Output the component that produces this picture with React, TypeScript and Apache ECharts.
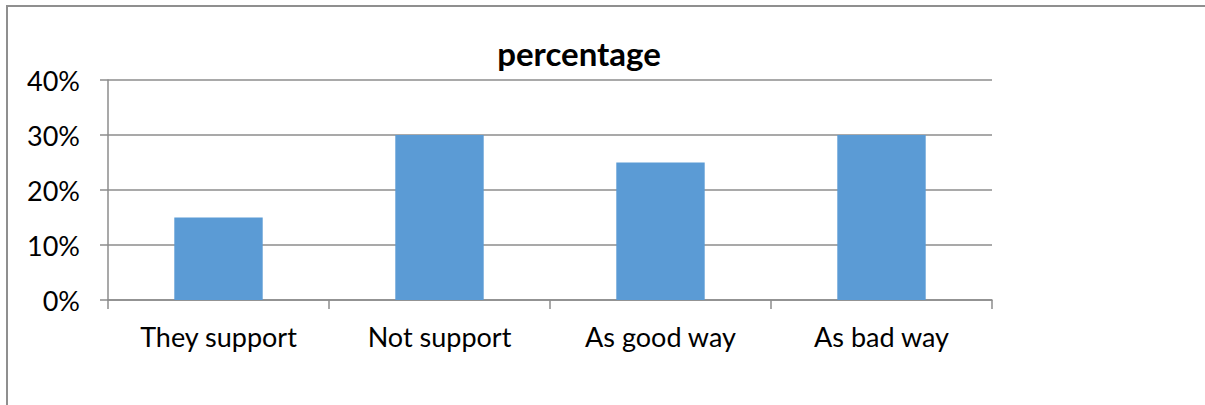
import React, { useEffect, useRef } from "react";
import * as echarts from "echarts";

const categories = ["They support", "Not support", "As good way", "As bad way"];
const percentages = [15, 30, 25, 30];
const yTicks = [0, 10, 20, 30, 40];
const chartTitle = "percentage";

const FONT = "Lato, 'Liberation Sans', sans-serif";

export default function App() {
  const ref = useRef<HTMLDivElement>(null);
  useEffect(() => {
    document.body.style.margin = "0";
    const chart = echarts.init(ref.current!, undefined, { renderer: "svg" });
    chart.setOption({
      animation: false,
      backgroundColor: "#ffffff",
      title: {
        text: chartTitle,
        left: 574,
        top: 31,
        textAlign: "center",
        textStyle: { fontFamily: FONT, fontSize: 33, fontWeight: "bold", color: "#000" },
      },
      graphic: [
        {
          type: "rect",
          shape: { x: 7, y: 6, width: 1400, height: 600 },
          style: { fill: "none", stroke: "#8f8f8f", lineWidth: 2 },
          silent: true,
        },
      ],
      grid: { left: 108, right: 1205 - 992, top: 80, bottom: 105, containLabel: false },
      xAxis: {
        type: "category",
        data: categories,
        axisLine: { show: true, lineStyle: { color: "#8c8c8c", width: 1.5 } },
        axisTick: { show: true, length: 9, lineStyle: { color: "#8c8c8c", width: 1.5 } },
        axisLabel: { fontFamily: FONT, fontSize: 27, color: "#000", margin: 23 },
        splitLine: { show: false },
      },
      yAxis: {
        type: "value",
        min: yTicks[0],
        max: yTicks[yTicks.length - 1],
        interval: 10,
        axisLine: { show: true, lineStyle: { color: "#8c8c8c", width: 1.5 } },
        axisTick: { show: true, length: 8, lineStyle: { color: "#8c8c8c", width: 1.5 } },
        axisLabel: {
          fontFamily: FONT,
          fontSize: 27,
          color: "#000",
          margin: 28,
          formatter: (v: number) => `${v}%`,
        },
        splitLine: { show: true, lineStyle: { color: "#8c8c8c", width: 1.5 } },
      },
      series: [
        {
          type: "bar",
          data: percentages,
          barWidth: "40%",
          itemStyle: { color: "#5b9bd5" },
        },
      ],
    });
    return () => chart.dispose();
  }, []);
  return <div ref={ref} style={{ width: 1205, height: 405 }} />;
}
